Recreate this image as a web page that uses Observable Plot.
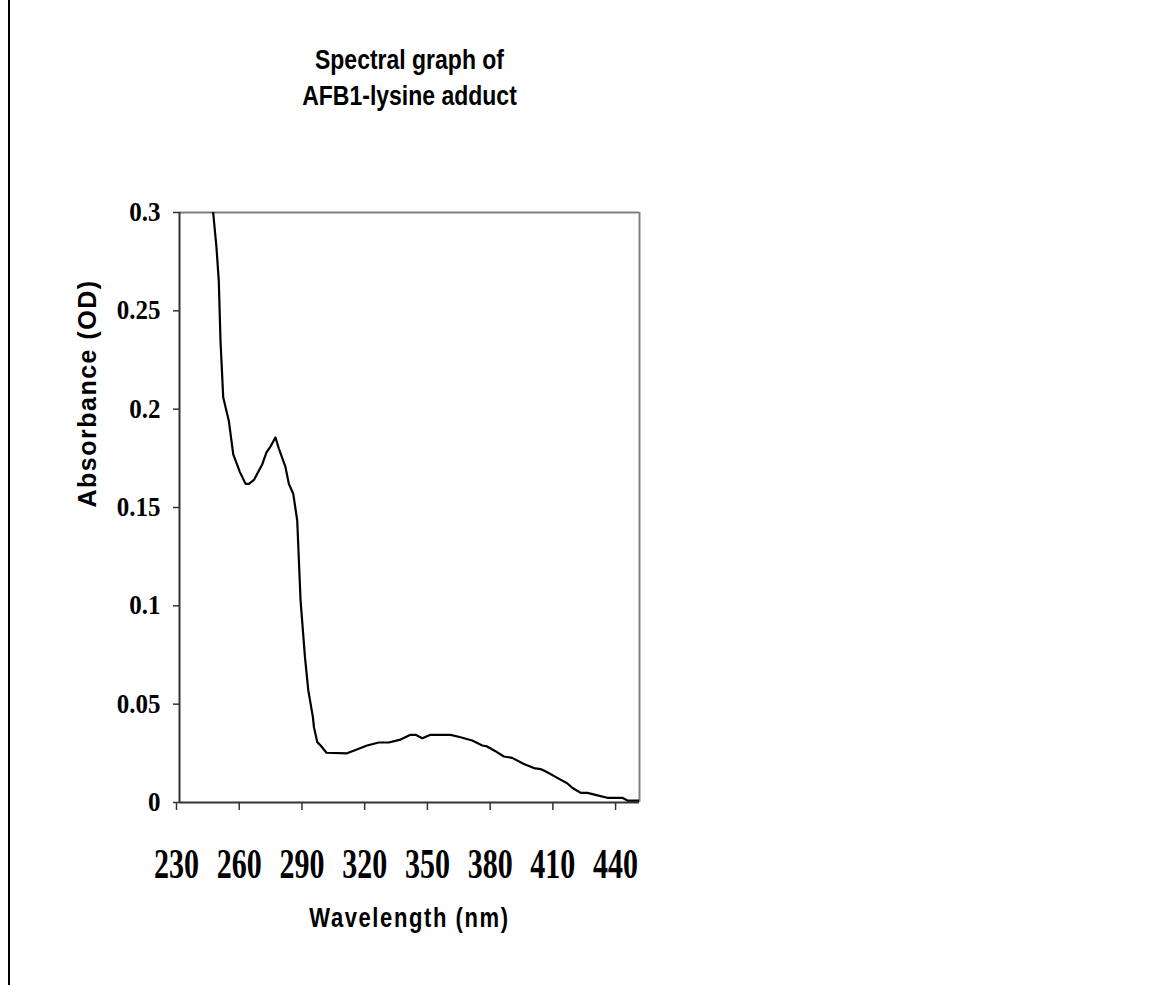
<!DOCTYPE html>
<html>
<head>
<meta charset="utf-8">
<script src="https://cdn.jsdelivr.net/npm/d3@7"></script>
<script src="https://cdn.jsdelivr.net/npm/@observablehq/plot@0.6"></script>
<style>
  html, body { margin: 0; padding: 0; background: #fff; }
  #wrap { position: relative; width: 1156px; height: 985px; overflow: hidden; background: #fff; }
  #edge { position: absolute; left: 8px; top: 0; width: 2px; height: 985px; background: #000; }
  #chart { position: absolute; left: 0; top: 0; }
</style>
</head>
<body>
<div id="wrap"><div id="chart"></div><div id="edge"></div></div>
<script>
const titleText = "Spectral graph of\nAFB1-lysine adduct";
const xTitle = "Wavelength (nm)";
const yTitle = "Absorbance (OD)";
const xTicks = [230, 260, 290, 320, 350, 380, 410, 440];
const yTicks = [0, 0.05, 0.1, 0.15, 0.2, 0.25, 0.3];
const yTickLabels = ["0", "0.05", "0.1", "0.15", "0.2", "0.25", "0.3"];
const wavelengths = [246.1, 247.7, 248.8, 249.6, 250.9, 253.6, 255.7, 258.9, 261.6, 263.2, 265.6, 269.6, 271.6, 273.5, 275.9, 277.5, 280.7, 282.3, 284.4, 286.3, 287.9, 290.0, 291.6, 293.8, 294.3, 295.9, 297.5, 300.3, 310.1, 314.2, 319.7, 325.3, 330.1, 335.7, 340.5, 342.9, 346.1, 350.1, 359.7, 364.4, 370.0, 374.8, 377.1, 381.1, 385.1, 389.1, 394.7, 399.5, 402.7, 405.9, 410.7, 415.4, 417.8, 421.9, 425.1, 429.9, 434.6, 441.8, 444.2, 450.0];
const absorbance = [0.300, 0.282, 0.265, 0.235, 0.206, 0.194, 0.177, 0.168, 0.162, 0.162, 0.164, 0.172, 0.178, 0.181, 0.1856, 0.180, 0.1705, 0.162, 0.157, 0.1434, 0.1027, 0.0739, 0.057, 0.0434, 0.0383, 0.0307, 0.029, 0.0253, 0.025, 0.0267, 0.029, 0.0305, 0.0305, 0.032, 0.0344, 0.0344, 0.0327, 0.0344, 0.0344, 0.0332, 0.0315, 0.029, 0.0285, 0.0261, 0.0234, 0.0227, 0.0196, 0.0175, 0.017, 0.0154, 0.0125, 0.0098, 0.0075, 0.0049, 0.0049, 0.0036, 0.0024, 0.0024, 0.001, 0.001];

const data = wavelengths.map((w, i) => ({w, a: absorbance[i]}));
const sans = "'Liberation Sans', Arial, sans-serif";
const serif = "'Liberation Serif', 'Times New Roman', serif";

const chart = Plot.plot({
  width: 1156,
  height: 985,
  marginLeft: 179,
  marginRight: 517,
  marginTop: 212,
  marginBottom: 183,
  style: {background: "#fff", overflow: "visible"},
  x: {domain: [230, 450]},
  y: {domain: [0, 0.3]},
  marks: [
    Plot.ruleY([0.3], {stroke: "#808080", strokeWidth: 2}),
    Plot.ruleX([450], {stroke: "#808080", strokeWidth: 2}),
    Plot.axisX(xTicks, {
      tickSize: 8, tickPadding: 42, stroke: "#333", strokeWidth: 1.5,
      fontSize: 30, fontFamily: serif, fontWeight: "bold", fill: "#000",
      dx: -3, label: null, tickFormat: d => String(d)
    }),
    Plot.axisY(yTicks, {
      tickSize: 6, tickPadding: 13, stroke: "#333", strokeWidth: 1.5,
      fontSize: 25, fontFamily: serif, fontWeight: "bold", fill: "#000",
      label: null, tickFormat: (d, i) => yTickLabels[i]
    }),
    Plot.ruleX([230], {stroke: "#333", strokeWidth: 2}),
    Plot.ruleY([0], {stroke: "#333", strokeWidth: 2}),
    Plot.line(data, {x: "w", y: "a", stroke: "#000", strokeWidth: 2.2, clip: true}),
    Plot.text([titleText], {
      frameAnchor: "top", dy: -137, lineAnchor: "middle", lineHeight: 1.3,
      fontSize: 23, fontFamily: sans, fontWeight: "bold", fill: "#000"
    }),
    Plot.text([xTitle], {
      frameAnchor: "bottom", dy: 115, lineAnchor: "middle",
      fontSize: 22, fontFamily: sans, fontWeight: "bold", fill: "#000"
    }),
    Plot.text([yTitle], {
      frameAnchor: "left", dx: -92, rotate: -90, lineAnchor: "middle",
      fontSize: 25, fontFamily: sans, fontWeight: "bold", fill: "#000"
    })
  ]
});
document.getElementById("chart").appendChild(chart);

// vertical stretch of text around its own centre, like the reference rendering
function stretch(el, s) {
  const parent = el.parentNode;
  const r = el.getBoundingClientRect();
  const m = parent.getScreenCTM().inverse();
  const p = new DOMPoint(r.x + r.width / 2, r.y + r.height / 2).matrixTransform(m);
  const g = document.createElementNS("http://www.w3.org/2000/svg", "g");
  g.setAttribute("transform", `translate(${p.x},${p.y}) scale(1,${s}) translate(${-p.x},${-p.y})`);
  parent.insertBefore(g, el);
  g.appendChild(el);
}
const texts = Array.from(chart.querySelectorAll("text"));
texts.forEach(t => {
  const s = t.textContent;
  if (s === yTitle) { t.style.letterSpacing = "1.5px"; return; }
  if (s === xTitle) { t.style.letterSpacing = "1.6px"; stretch(t, 1.27); return; }
  if (s.startsWith("Spectral")) { stretch(t, 1.2); return; }
  if (xTicks.map(String).includes(s)) { stretch(t, 1.4); return; }
  if (yTickLabels.includes(s)) { stretch(t, 1.07); return; }
});
</script>
</body>
</html>
